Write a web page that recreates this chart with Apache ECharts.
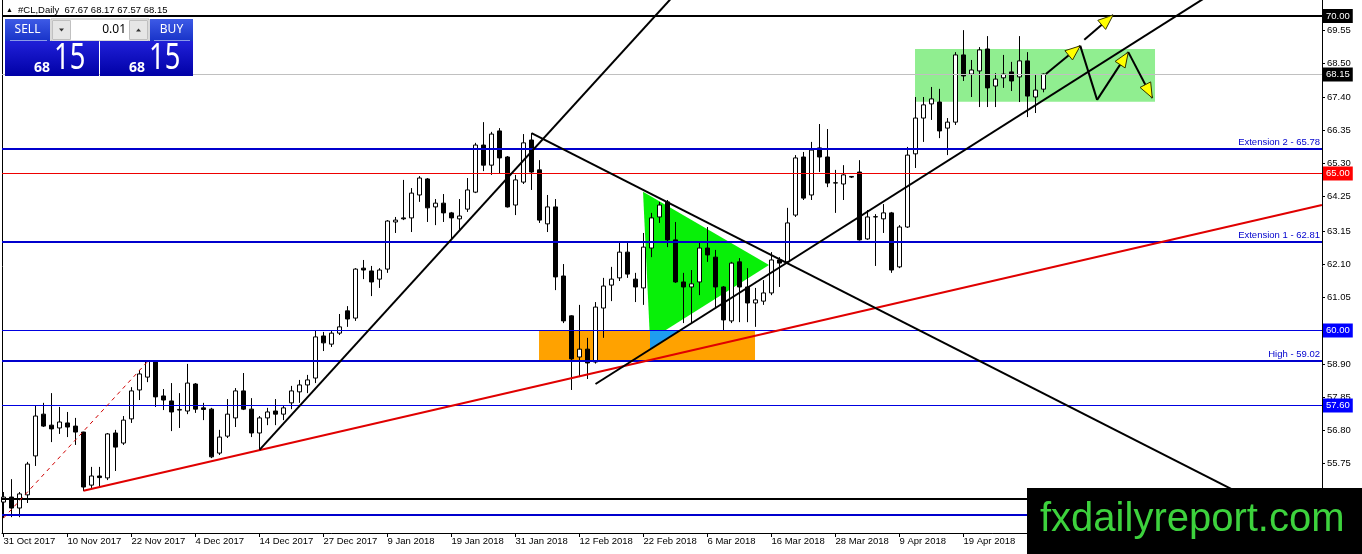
<!DOCTYPE html>
<html><head><meta charset="utf-8">
<script src="https://cdn.jsdelivr.net/npm/echarts@6/dist/echarts.min.js"></script>
<style>html,body{margin:0;padding:0;background:#fff;}#c{width:1362px;height:554px;}</style>
</head><body><div id="c"></div>
<script>
// ---------------- data ----------------
const opens = [54.52,54.68,54.33,54.75,55.99,57.32,56.97,56.88,57.04,56.94,
56.75,55.06,55.35,55.29,56.72,56.40,57.17,58.09,58.50,58.98,
57.90,57.74,57.45,57.42,58.28,57.52,57.48,56.08,56.62,57.20,
58.06,57.48,56.72,57.20,57.42,57.32,57.68,58.03,58.25,58.47,
59.81,59.55,59.90,60.61,60.38,61.97,61.88,61.62,61.94,63.44,
63.57,63.57,64.30,64.81,63.92,64.04,63.73,63.54,63.85,64.39,
65.89,65.25,66.34,65.51,63.98,64.71,66.05,65.10,63.38,63.92,
61.72,60.45,59.14,59.39,58.98,60.70,61.43,61.66,62.48,61.62,
61.34,62.61,63.60,64.08,62.87,61.53,61.37,61.53,62.61,62.32,
61.37,60.29,62.17,61.37,60.86,60.92,61.18,62.23,62.17,63.66,
65.51,64.30,65.80,65.51,64.68,64.65,64.87,65.03,62.90,63.60,
63.54,63.73,62.01,63.28,65.61,66.75,67.20,67.26,66.43,66.62,
68.76,68.15,68.25,68.95,67.77,68.03,68.22,68.06,68.57,67.42,67.67];
const highs = [54.84,55.25,54.84,55.80,57.61,57.68,57.99,57.55,57.39,57.20,
56.76,55.64,55.64,56.72,56.82,57.26,58.18,58.73,59.04,59.01,
58.12,58.31,57.99,58.92,58.31,57.68,57.52,56.82,57.80,58.15,
58.63,57.83,57.26,57.52,57.80,57.61,58.22,58.41,58.57,60.00,
59.94,60.00,60.51,60.76,61.97,62.23,62.04,61.97,63.50,63.60,
64.78,64.52,64.90,64.84,64.17,64.33,63.76,64.17,64.84,65.96,
66.62,66.31,66.43,65.54,64.94,66.24,66.27,65.41,64.30,64.17,
62.10,60.47,60.80,59.75,60.89,61.66,62.01,62.77,62.77,61.82,
63.09,63.73,64.08,64.14,63.44,61.82,61.91,62.80,63.28,62.55,
61.40,62.17,62.29,61.97,61.34,61.59,62.48,62.32,63.89,65.57,
65.67,65.99,66.56,66.40,65.10,65.25,64.90,65.41,63.82,63.69,
64.01,63.76,63.34,65.83,67.42,67.42,67.74,67.68,66.75,68.85,
69.55,68.60,69.01,69.36,68.18,68.76,68.54,69.36,68.85,68.12,68.17];
const lows = [54.01,54.04,54.04,54.49,55.67,56.91,56.43,56.69,56.59,56.34,
54.87,54.97,55.00,55.22,55.51,56.34,57.04,57.77,58.34,57.55,
57.45,56.78,56.88,57.32,57.36,57.13,55.92,56.02,56.56,56.91,
57.45,56.59,56.18,56.97,56.97,57.13,57.48,57.68,57.99,58.31,
59.33,59.46,59.84,60.10,60.29,61.62,61.08,61.34,61.82,63.09,
63.50,63.12,64.08,63.44,63.34,63.44,62.87,63.18,63.76,64.36,
65.06,64.94,65.00,63.90,63.66,64.65,64.46,63.41,63.12,61.27,
60.22,58.09,58.50,58.44,58.93,59.75,60.92,61.56,61.66,60.89,
60.80,62.32,63.41,62.64,61.50,60.22,60.22,61.11,62.17,60.73,
60.00,60.22,60.25,60.25,60.10,60.80,61.11,61.37,62.13,63.60,
64.14,64.14,65.03,64.55,63.73,64.14,64.84,62.85,62.87,62.04,
63.09,61.82,61.97,63.25,65.16,65.99,66.69,66.11,65.57,66.53,
67.93,67.42,67.10,67.10,67.10,67.71,67.61,67.26,66.78,66.91,67.57];
const closes = [54.68,54.33,54.78,55.73,57.26,56.94,56.85,57.07,56.91,56.75,
55.00,55.35,55.30,56.69,56.27,57.13,58.06,58.60,59.01,57.87,
57.77,57.39,57.47,58.31,57.48,57.47,55.96,56.59,57.32,58.06,
57.48,56.72,57.20,57.39,57.32,57.52,58.06,58.25,58.41,59.78,
59.59,59.90,60.10,60.35,61.94,61.91,61.53,61.91,63.47,63.50,
63.54,64.36,64.84,63.89,64.04,63.73,63.57,63.63,64.46,65.89,
65.25,66.24,65.48,63.92,64.78,65.96,65.03,63.50,63.92,61.69,
60.29,59.08,59.39,58.95,60.73,61.40,61.62,62.48,61.78,61.37,
62.64,63.57,63.98,62.87,61.53,61.37,61.47,62.61,62.39,61.37,
60.32,62.13,61.37,60.86,60.96,61.18,62.23,62.13,63.41,65.48,
64.20,65.73,65.51,64.68,64.69,64.94,64.89,62.87,63.60,63.61,
63.73,61.91,63.28,65.57,66.75,67.17,67.36,66.34,66.62,68.76,
68.09,68.28,68.92,67.71,67.99,68.15,67.93,68.57,67.45,67.64,68.15];

const firstDate = [2017, 9, 31];            // 31 Oct 2017
const holidays = ['2017-12-25', '2018-01-01'];
const tickIdx = [0, 8, 16, 24, 32, 40, 48, 56, 64, 72, 80, 88, 96, 104, 112, 120];
const yTicks = [69.55, 68.50, 67.40, 66.35, 65.30, 64.25, 63.15, 62.10, 61.05, 58.90, 57.85, 56.80, 55.75, 54.70];

const levels     = [70.00, 68.15, 65.78, 65.00, 62.81, 60.00, 59.02, 57.60, 54.62, 54.11];
const levelNames = ['', '', 'Extension 2 - 65.78', '', 'Extension 1 - 62.81', '', 'High - 59.02', '', '', ''];

// trend lines: [barFrom, priceFrom, barTo, priceTo]
const trendLines = [
  [0, 54.01, 18, 58.99],
  [10, 54.88, 164.8, 63.98],
  [32, 56.18, 83.6, 70.60],
  [66, 66.27, 164.8, 53.47],
  [74, 58.28, 150.0, 70.55]
];
// filled zones (bar, price) vertices
const zones = [
  [[79.94, 64.40], [95.69, 62.07], [80.81, 59.68]],
  [[66.94, 60.00], [93.94, 60.00], [93.94, 59.02], [66.94, 59.02]],
  [[80.81, 60.00], [84.81, 60.00], [80.81, 59.39]],
  [[113.94, 68.95], [143.94, 68.95], [143.94, 67.27], [113.94, 67.27]]
];
// arrows: [barFrom, priceFrom, barTo, priceTo, head]
const arrows = [
  [130.3, 68.15, 134.6, 69.05, 1],
  [134.6, 69.05, 136.7, 67.33, 0],
  [136.7, 67.33, 140.6, 68.85, 1],
  [140.6, 68.85, 143.6, 67.39, 1],
  [135.1, 69.24, 138.7, 70.03, 1]
];
const headerText = '#CL,Daily  67.67 68.17 67.57 68.15';
const lotText = '0.01';
const bidBig = '68', bidPips = '15', askBig = '68', askPips = '15';
const watermark = 'fxdailyreport.com';

// ---------------- derived ----------------
const MONTHS = ['Jan','Feb','Mar','Apr','May','Jun','Jul','Aug','Sep','Oct','Nov','Dec'];
const dates = (function () {
  const out = [];
  const d = new Date(Date.UTC(firstDate[0], firstDate[1], firstDate[2]));
  while (out.length < opens.length) {
    const wd = d.getUTCDay();
    const iso = d.toISOString().slice(0, 10);
    if (wd !== 0 && wd !== 6 && holidays.indexOf(iso) < 0) {
      out.push(d.getUTCDate() + ' ' + MONTHS[d.getUTCMonth()] + ' ' + d.getUTCFullYear());
    }
    d.setUTCDate(d.getUTCDate() + 1);
  }
  return out;
})();

// layout
const GL = 2, GR = 40, GT = 0, GB = 21, W = 1362, H = 554;
const barPx = 8, firstBarX = 3.5;
const plotW = W - GL - GR, plotH = H - GT - GB;
const xMin = (GL - firstBarX) / barPx, xMax = xMin + plotW / barPx;
const pxPerUnit = 31.4, refPrice = 70, refY = 16;
const yMax = refPrice + (refY - GT) / pxPerUnit;
const yMin = refPrice - (GT + plotH - refY) / pxPerUnit;

const FONT = 'Liberation Sans';
const levelStyle = [
  {c: '#000000', w: 2, tag: '#000000'},
  {c: '#c0c0c0', w: 1, tag: '#000000'},
  {c: '#0000cd', w: 2},
  {c: '#ee0000', w: 1, tag: '#ff0000'},
  {c: '#0000cd', w: 2},
  {c: '#0000e0', w: 1, tag: '#0000ff'},
  {c: '#0000cd', w: 2},
  {c: '#0000e0', w: 1, tag: '#0000ff'},
  {c: '#000000', w: 2},
  {c: '#0000cd', w: 2}
];
const trendStyle = [
  {color: '#d00000', width: 1, type: [4, 4]},
  {color: '#e00000', width: 2, type: 'solid'},
  {color: '#000000', width: 2, type: 'solid'},
  {color: '#000000', width: 2, type: 'solid'},
  {color: '#000000', width: 2, type: 'solid'}
];
const zoneColors = ['#08f008', '#ffa200', '#1e9cf0', '#90ee90'];

const candleData = opens.map((o, i) => [i, o, closes[i], lows[i], highs[i]]);

const series = [];
series.push({
  type: 'custom', z: 1, clip: true, silent: true,
  data: zones.map((z, i) => [z[0][0], z[0][1], i]),
  encode: {x: 0, y: 1},
  renderItem: function (params, api) {
    const pts = zones[params.dataIndex].map(p => api.coord(p));
    return {type: 'polygon', shape: {points: pts}, style: {fill: zoneColors[params.dataIndex], stroke: null}};
  }
});
series.push({
  type: 'candlestick', z: 2, silent: true,
  data: candleData, encode: {x: 0, y: [1, 2, 3, 4]},
  barWidth: 5,
  itemStyle: {color: '#ffffff', color0: '#000000', borderColor: '#000000', borderColor0: '#000000', borderWidth: 1}
});
// horizontal levels with price tags / names
series.push({
  type: 'custom', z: 3, clip: false, silent: true,
  data: levels.map((v, i) => [0, v, i]),
  encode: {x: 0, y: 1},
  renderItem: function (params, api) {
    const i = params.dataIndex, s = levelStyle[i], cs = params.coordSys;
    let y = api.coord([0, levels[i]])[1];
    y = s.w % 2 ? Math.round(y - 0.5) + 0.5 : Math.round(y);
    const ch = [{type: 'line', shape: {x1: cs.x, y1: y, x2: cs.x + cs.width, y2: y},
      style: {stroke: s.c, lineWidth: s.w}}];
    if (s.tag) {
      ch.push({type: 'text', x: cs.x + cs.width + 1, y: y,
        style: {text: levels[i].toFixed(2), fill: '#fff', backgroundColor: s.tag, padding: [2, 3, 2, 3],
          font: '9.5px ' + FONT, align: 'left', verticalAlign: 'middle'}});
    } else if (levelNames[i]) {
      ch.push({type: 'text', x: cs.x + cs.width - 2, y: y - 1.5,
        style: {text: levelNames[i], fill: '#0000cd', font: '9.5px ' + FONT, align: 'right', verticalAlign: 'bottom'}});
    }
    return {type: 'group', children: ch};
  }
});
trendLines.forEach((t, i) => {
  series.push({
    type: 'line', z: 4, silent: true, symbol: 'none', clip: true,
    data: [[t[0], t[1]], [t[2], t[3]]],
    lineStyle: trendStyle[i]
  });
});
series.push({
  type: 'custom', z: 5, clip: true, silent: true,
  data: arrows.map(a => [a[0], a[1], a[2], a[3]]),
  encode: {x: [0, 2], y: [1, 3]},
  renderItem: function (params, api) {
    const a = arrows[params.dataIndex];
    const p1 = api.coord([a[0], a[1]]), p2 = api.coord([a[2], a[3]]);
    const ch = [{type: 'line', shape: {x1: p1[0], y1: p1[1], x2: p2[0], y2: p2[1]},
      style: {stroke: '#000', lineWidth: 2}}];
    if (a[4]) {
      const ang = Math.atan2(p2[1] - p1[1], p2[0] - p1[0]);
      const L = 15, HW = 6;
      const bx = p2[0] - L * Math.cos(ang), by = p2[1] - L * Math.sin(ang);
      const nx = -Math.sin(ang), ny = Math.cos(ang);
      ch.push({type: 'polygon', shape: {points: [[p2[0], p2[1]], [bx + HW * nx, by + HW * ny], [bx - HW * nx, by - HW * ny]]},
        style: {fill: '#ffff00', stroke: '#333300', lineWidth: 1}});
    }
    return {type: 'group', children: ch};
  }
});

// trading panel graphics
function grad(a, b) { return new echarts.graphic.LinearGradient(0, 0, 0, 1, [{offset: 0, color: a}, {offset: 1, color: b}]); }
const UI = 'Noto Sans';
const graphics = [
  {type: 'text', x: 6, y: 10, style: {text: '\u25B2', fill: '#000', font: '7px ' + FONT, verticalAlign: 'middle'}},
  {type: 'text', x: 18, y: 10, style: {text: headerText, fill: '#000', font: '9.5px ' + FONT, verticalAlign: 'middle'}},
  {type: 'rect', shape: {x: 5, y: 19, width: 45, height: 22}, style: {fill: grad('#3d5ae6', '#1833c8')}},
  {type: 'line', shape: {x1: 10, y1: 40.5, x2: 47, y2: 40.5}, style: {stroke: '#8a9ae8', lineWidth: 1}},
  {type: 'text', x: 27.5, y: 30, style: {text: 'SELL', fill: '#fff', font: '12px ' + UI, align: 'center', verticalAlign: 'middle'}},
  {type: 'rect', shape: {x: 51, y: 19, width: 98, height: 22}, style: {fill: '#fff', stroke: '#b4b4b4', lineWidth: 1}},
  {type: 'rect', shape: {x: 52.5, y: 20.5, width: 18, height: 19}, style: {fill: '#e6e6e6', stroke: '#c0c0c0', lineWidth: 1}},
  {type: 'polygon', shape: {points: [[59, 28.5], [64, 28.5], [61.5, 31.5]]}, style: {fill: '#333'}},
  {type: 'rect', shape: {x: 129.5, y: 20.5, width: 18, height: 19}, style: {fill: '#e6e6e6', stroke: '#c0c0c0', lineWidth: 1}},
  {type: 'polygon', shape: {points: [[136, 31.5], [141, 31.5], [138.5, 28.5]]}, style: {fill: '#333'}},
  {type: 'text', x: 126, y: 30, style: {text: lotText, fill: '#000', font: '12px ' + UI, align: 'right', verticalAlign: 'middle'}},
  {type: 'rect', shape: {x: 150, y: 19, width: 43, height: 22}, style: {fill: grad('#3d5ae6', '#1833c8')}},
  {type: 'line', shape: {x1: 154, y1: 40.5, x2: 190, y2: 40.5}, style: {stroke: '#8a9ae8', lineWidth: 1}},
  {type: 'text', x: 171.5, y: 30, style: {text: 'BUY', fill: '#fff', font: '12px ' + UI, align: 'center', verticalAlign: 'middle'}},
  {type: 'rect', shape: {x: 5, y: 41, width: 94, height: 35}, style: {fill: grad('#2020d8', '#0000a6')}},
  {type: 'rect', shape: {x: 100, y: 41, width: 93, height: 35}, style: {fill: grad('#2020d8', '#0000a6')}},
  {type: 'text', x: 50, y: 68, style: {text: bidBig, fill: '#fff', font: 'bold 14px ' + UI, align: 'right', verticalAlign: 'middle'}},
  {type: 'text', x: 54, y: 58.5, scaleX: 0.74, style: {text: bidPips, fill: '#fff', font: '37px ' + UI, align: 'left', verticalAlign: 'middle'}},
  {type: 'text', x: 145, y: 68, style: {text: askBig, fill: '#fff', font: 'bold 14px ' + UI, align: 'right', verticalAlign: 'middle'}},
  {type: 'text', x: 149, y: 58.5, scaleX: 0.74, style: {text: askPips, fill: '#fff', font: '37px ' + UI, align: 'left', verticalAlign: 'middle'}},
  {type: 'rect', shape: {x: 1027, y: 488, width: 335, height: 66}, style: {fill: '#000'}},
  {type: 'text', x: 1040, y: 520, style: {text: watermark, fill: '#3dd23d', font: '40px ' + FONT, align: 'left', verticalAlign: 'middle'}}
].map(g => Object.assign({z: 100}, g));

const chart = echarts.init(document.getElementById('c'), null, {renderer: 'canvas'});
chart.setOption({
  animation: false,
  backgroundColor: '#ffffff',
  grid: {left: GL, right: GR, top: GT, bottom: GB, containLabel: false, outerBoundsMode: 'none'},
  xAxis: {
    type: 'value', min: xMin, max: xMax,
    axisLine: {show: true, onZero: false, lineStyle: {color: '#000', width: 1}},
    axisTick: {show: true, customValues: tickIdx, length: 4, lineStyle: {color: '#000'}},
    axisLabel: {show: true, customValues: tickIdx, formatter: v => dates[Math.round(v)] || '',
      align: 'left', margin: 3, color: '#000', fontSize: 9.5, fontFamily: FONT},
    splitLine: {show: false}
  },
  yAxis: [{
    type: 'value', position: 'right', min: yMin, max: yMax,
    axisLine: {show: true, onZero: false, lineStyle: {color: '#000', width: 1}},
    axisTick: {show: true, customValues: yTicks, length: 3, lineStyle: {color: '#000'}},
    axisLabel: {show: true, customValues: yTicks, formatter: v => v.toFixed(2), margin: 5,
      color: '#000', fontSize: 9.5, fontFamily: FONT},
    splitLine: {show: false}
  }, {
    type: 'value', position: 'left', min: yMin, max: yMax,
    axisLine: {show: true, onZero: false, lineStyle: {color: '#000', width: 1}},
    axisTick: {show: false}, axisLabel: {show: false}, splitLine: {show: false}
  }],
  series: series,
  graphic: graphics
});
</script></body></html>
